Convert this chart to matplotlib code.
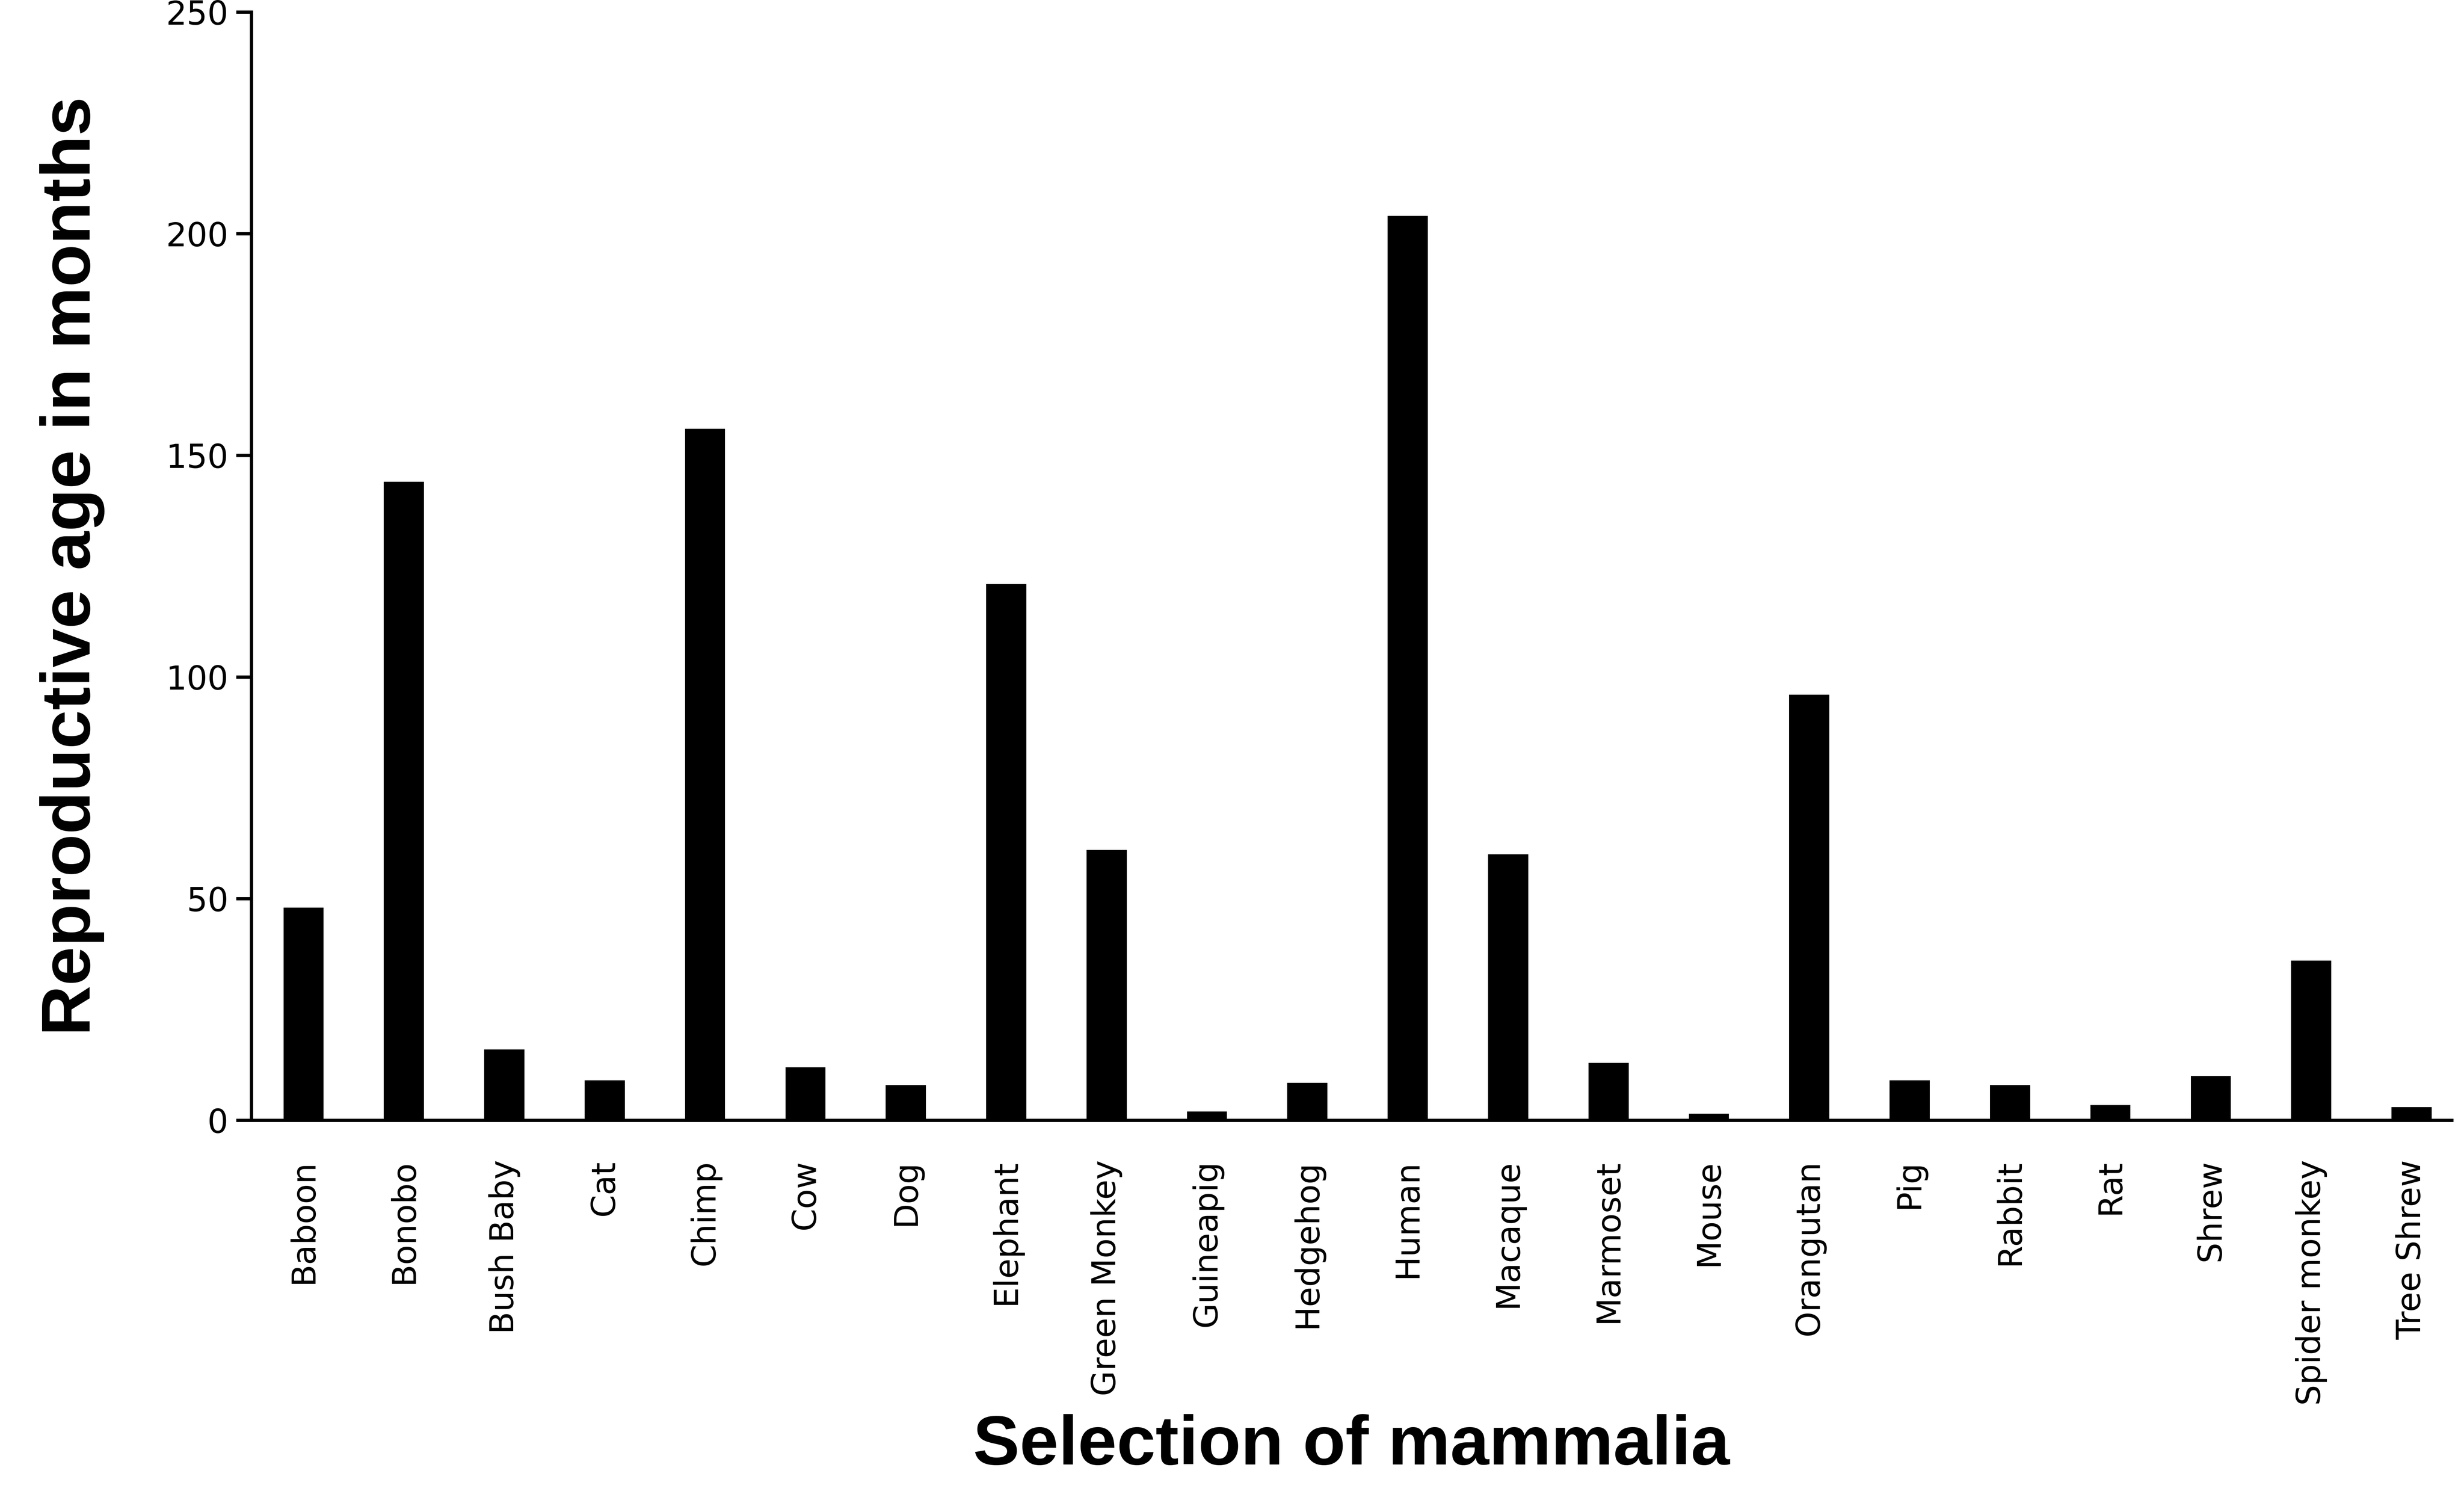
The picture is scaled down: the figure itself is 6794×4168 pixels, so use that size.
import matplotlib.pyplot as plt
#%%
'''reproductive age of a selection of mammals, values read off
the reference picture (months)'''

animals = ["Baboon","Bonobo","Bush Baby","Cat","Chimp","Cow","Dog","Elephant",
           "Green Monkey","Guineapig","Hedgehog","Human","Macaque","Marmoset",
           "Mouse","Orangutan","Pig","Rabbit","Rat","Shrew","Spider monkey","Tree Shrew"]
ages = [48,144,16,9,156,12,8,121,61,2,8.5,204,60,13,1.5,96,9,8,3.5,10,36,3]
y_ticks = [0,50,100,150,200,250]

#%%
'''here the bar chart is drawn'''
plt.figure(figsize=(15.68,9.62))
plt.axes([0.102,0.259,0.893,0.733])
plt.bar(range(len(animals)),ages,width=0.4,color='black')
plt.xticks(range(len(animals)),animals,rotation=90,fontsize=15,family='DejaVu Sans')
plt.yticks(y_ticks,fontsize=15,family='DejaVu Sans')
plt.tick_params(axis='x',length=0,pad=18)
plt.tick_params(axis='y',direction='out',length=7,width=1.5)
plt.xlim(-0.52,21.4)
plt.ylim(0,250)
ax = plt.gca()
ax.spines['top'].set_visible(False)
ax.spines['right'].set_visible(False)
ax.spines['left'].set_linewidth(1.5)
ax.spines['bottom'].set_linewidth(1.5)
plt.xlabel('Selection of mammalia',fontsize=32,fontweight='bold',family='Liberation Sans',labelpad=4)
plt.ylabel('Reproductive age in months',fontsize=32,fontweight='bold',family='Liberation Sans',labelpad=28)
plt.savefig('out.png',dpi=433.3)
